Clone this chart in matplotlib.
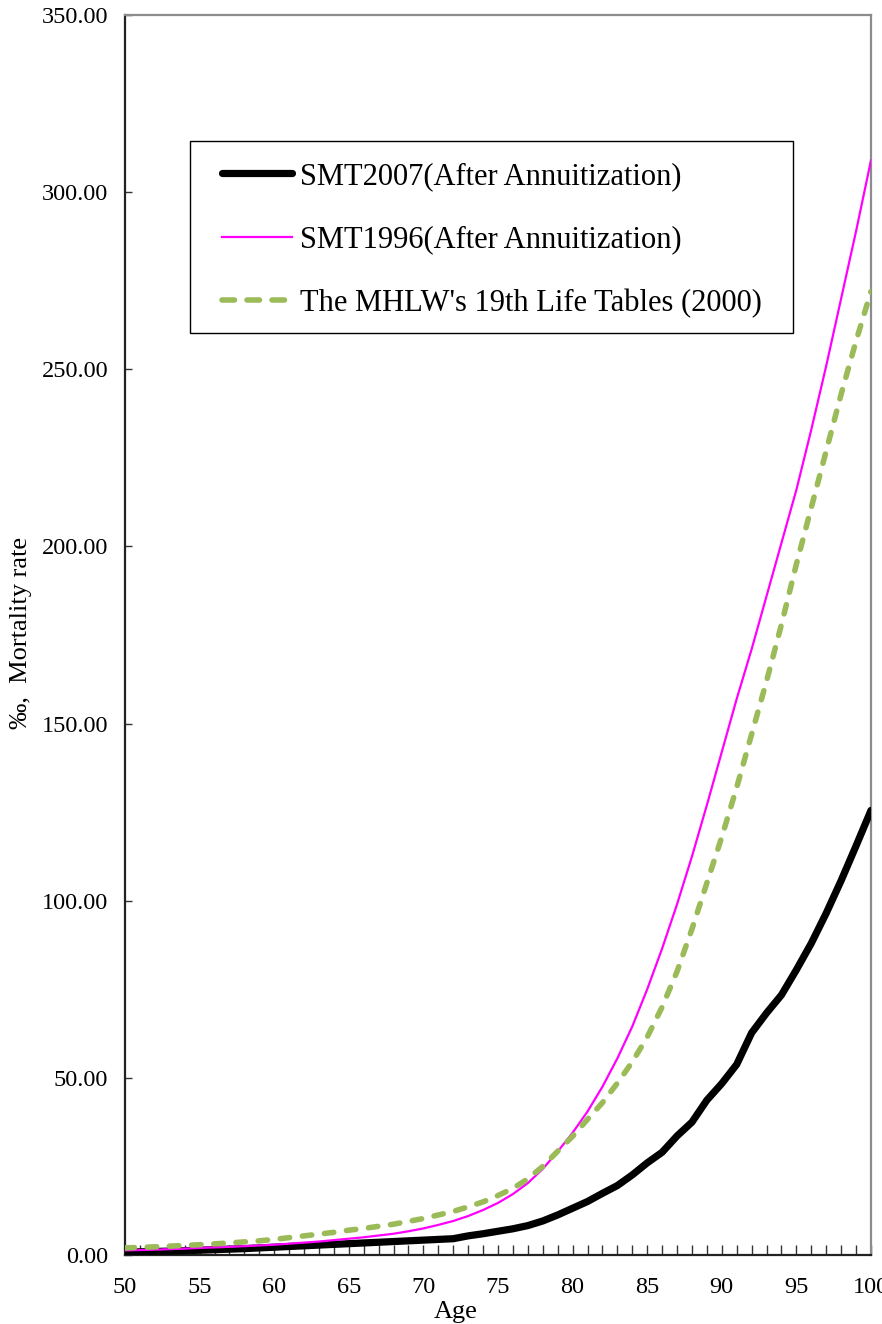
import matplotlib
matplotlib.use("Agg")
import matplotlib.pyplot as plt
from matplotlib.lines import Line2D
from matplotlib.patches import Rectangle
from matplotlib.ticker import MultipleLocator, FormatStrFormatter

plt.rcParams['font.family'] = ['Liberation Serif', 'DejaVu Serif']

ages = list(range(50, 101))

smt2007 = [0.8, 0.9, 1.0, 1.1, 1.2, 1.35, 1.5, 1.65, 1.8, 2.0,
           2.2, 2.4, 2.6, 2.8, 3.0, 3.2, 3.4, 3.6, 3.8, 4.0,
           4.2, 4.4, 4.6, 5.4, 6.0, 6.7, 7.4, 8.3, 9.6, 11.3,
           13.2, 15.1, 17.4, 19.6, 22.6, 26.0, 29.0, 33.6, 37.5, 43.7,
           48.4, 53.8, 62.7, 68.3, 73.4, 80.5, 88.0, 96.5, 105.7, 115.5,
           125.5]

smt1996 = [1.3, 1.4, 1.5, 1.65, 1.8, 2.0, 2.15, 2.3, 2.5, 2.7,
           2.9, 3.2, 3.5, 3.8, 4.2, 4.6, 5.0, 5.5, 6.0, 6.7,
           7.5, 8.5, 9.6, 11.0, 12.7, 14.7, 17.2, 20.3, 24.3, 29.2,
           34.5, 40.5, 47.5, 55.5, 64.5, 75.0, 86.5, 99.0, 112.5, 127.0,
           142.0, 157.0, 171.0, 186.0, 201.0, 216.0, 233.0, 251.0, 270.0, 289.0,
           309.0]

mhlw19 = [2.0, 2.15, 2.3, 2.5, 2.7, 2.9, 3.15, 3.4, 3.7, 4.0,
          4.4, 4.9, 5.4, 5.9, 6.4, 7.0, 7.5, 8.1, 8.7, 9.5,
          10.3, 11.3, 12.3, 13.6, 15.0, 16.8, 18.8, 21.5, 25.0, 29.3,
          33.5, 38.3, 43.0, 48.5, 54.5, 61.5, 70.0, 80.0, 92.0, 105.0,
          118.0, 132.0, 147.0, 162.0, 178.0, 195.0, 211.0, 227.0, 243.0, 258.0,
          272.0]

labels = ["SMT2007(After Annuitization)",
          "SMT1996(After Annuitization)",
          "The MHLW's 19th Life Tables (2000)"]

GREEN = '#9BBB59'
MAGENTA = '#FF00FF'

W, H = 882, 1324
fig = plt.figure(figsize=(W / 100, H / 100), dpi=100)
ax = fig.add_axes([125 / W, (H - 1255) / H, 746 / W, 1240 / H])

l1, = ax.plot(ages, smt2007, color='black', lw=5.2, solid_capstyle='round',
              solid_joinstyle='round', zorder=3)
l2, = ax.plot(ages, smt1996, color=MAGENTA, lw=1.6, zorder=4)
ax.plot(ages, mhlw19, color=GREEN, lw=4.0, dashes=(1.7, 2.3),
        dash_capstyle='round', zorder=5)
# legend key for the dashed series uses slightly longer dashes
l3_key = Line2D([], [], color=GREEN, lw=4.0, dashes=(2.25, 2.25),
                dash_capstyle='round')

ax.set_xlim(50, 100)
ax.set_ylim(0, 350)
ax.xaxis.set_major_locator(MultipleLocator(5))
ax.xaxis.set_minor_locator(MultipleLocator(1))
ax.yaxis.set_major_locator(MultipleLocator(50))
ax.yaxis.set_major_formatter(FormatStrFormatter('%.2f'))

ax.tick_params(axis='x', which='major', direction='in', length=7, width=1,
               labelsize=17.5, pad=16, color='#333333')
ax.tick_params(axis='x', which='minor', direction='in', length=7, width=1,
               color='#333333')
ax.tick_params(axis='y', which='major', direction='in', length=5, width=1,
               labelsize=17.5, pad=12, color='#333333')

for side in ('left', 'bottom'):
    ax.spines[side].set_color('#222222')
    ax.spines[side].set_linewidth(1.6)
for side in ('top', 'right'):
    ax.spines[side].set_color('#8C8C8C')
    ax.spines[side].set_linewidth(1.6)

ax.set_xlabel('Age', fontsize=19)
ax.xaxis.set_label_coords((456 - 125) / 746, -0.037)
ax.set_ylabel('‰,  Mortality rate', fontsize=19)
ax.yaxis.set_label_coords((32 - 125) / 746, 0.502)

# legend box drawn as a patch, entries placed on top without their own frame
box = Rectangle((190 / W, 1 - 333 / H), (793 - 190) / W, (333 - 141) / H,
                transform=fig.transFigure, facecolor='white',
                edgecolor='black', linewidth=1.0, zorder=9, clip_on=False)
ax.add_patch(box)
leg = ax.legend([l1, l2, l3_key], labels,
                loc='upper left', bbox_to_anchor=(222 / W, 1 - 162 / H),
                bbox_transform=fig.transFigure, borderaxespad=0, borderpad=0,
                frameon=False, fontsize=22, handlelength=2.3,
                handletextpad=0.26, labelspacing=1.12)
leg.set_zorder(10)

fig.savefig('out.png', dpi=100)
